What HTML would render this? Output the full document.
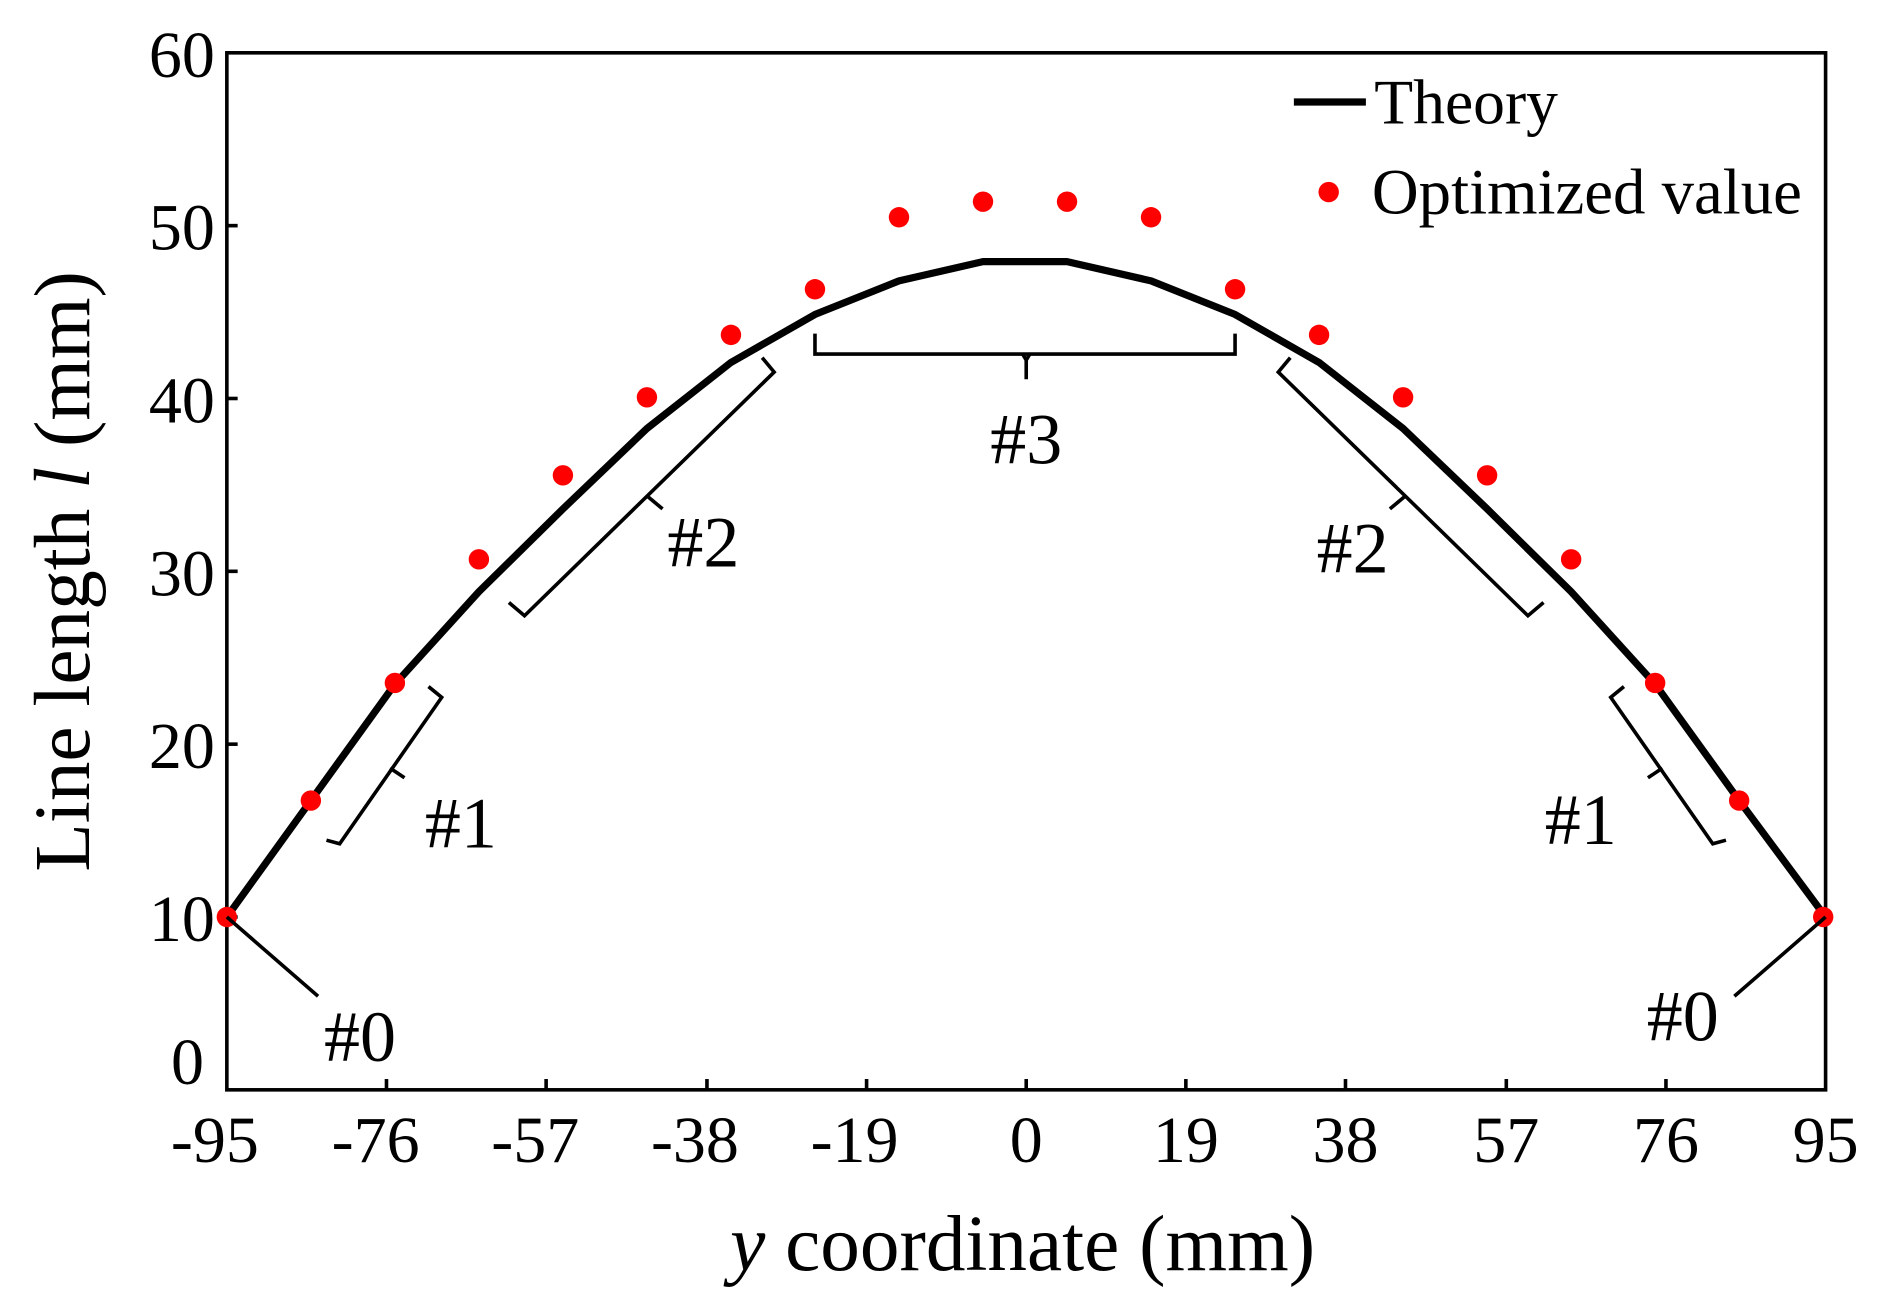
<!DOCTYPE html>
<html><head><style>html,body{margin:0;padding:0;background:#fff}svg{display:block}</style></head>
<body>
<svg width="1882" height="1309" viewBox="0 0 1568 1090.6" preserveAspectRatio="none" xmlns="http://www.w3.org/2000/svg" font-family="Liberation Serif, serif">
<rect width="1568" height="1091" fill="#fff"/>
<rect x="189" y="44" width="1332" height="864" fill="none" stroke="#000" stroke-width="3"/>
<g stroke="#000" stroke-width="3">
<line x1="189" y1="188" x2="198" y2="188"/><line x1="189" y1="332" x2="198" y2="332"/><line x1="189" y1="476" x2="198" y2="476"/><line x1="189" y1="620" x2="198" y2="620"/><line x1="189" y1="764" x2="198" y2="764"/>
<line x1="322" y1="908" x2="322" y2="899"/><line x1="455" y1="908" x2="455" y2="899"/><line x1="589" y1="908" x2="589" y2="899"/><line x1="722" y1="908" x2="722" y2="899"/><line x1="855" y1="908" x2="855" y2="899"/><line x1="988" y1="908" x2="988" y2="899"/><line x1="1121" y1="908" x2="1121" y2="899"/><line x1="1255" y1="908" x2="1255" y2="899"/><line x1="1388" y1="908" x2="1388" y2="899"/>
</g>
<g font-size="55" text-anchor="end">
<text x="179" y="64">60</text><text x="179" y="208">50</text><text x="179" y="352">40</text><text x="179" y="496">30</text><text x="179" y="640">20</text><text x="179" y="784">10</text><text x="170" y="903">0</text>
</g>
<g font-size="55" text-anchor="middle">
<text x="179" y="968">-95</text><text x="313" y="968">-76</text><text x="446" y="968">-57</text><text x="579" y="968">-38</text><text x="712" y="968">-19</text><text x="855" y="968">0</text><text x="988" y="968">19</text><text x="1121" y="968">38</text><text x="1255" y="968">57</text><text x="1388" y="968">76</text><text x="1521" y="968">95</text>
</g>
<text x="852" y="1058" font-size="66" text-anchor="middle"><tspan font-style="italic">y</tspan> coordinate (mm)</text>
<text transform="translate(74,476) rotate(-90)" font-size="66" text-anchor="middle">Line length <tspan font-style="italic">l</tspan> (mm)</text>
<polyline fill="none" stroke="#000" stroke-width="6" stroke-linejoin="round" points="189,764 259,667 329,570 399,493 469,424 539,357 609,302 679,262 749,234 819,218 889,218 959,234 1029,262 1099,302 1169,357 1239,424 1309,493 1379,570 1449,667 1521,764"/>
<g fill="#f00">
<circle cx="189" cy="764" r="8.5"/><circle cx="259" cy="667" r="8.5"/><circle cx="329" cy="569" r="8.5"/><circle cx="399" cy="466" r="8.5"/><circle cx="469" cy="396" r="8.5"/><circle cx="539" cy="331" r="8.5"/><circle cx="609" cy="279" r="8.5"/><circle cx="679" cy="241" r="8.5"/><circle cx="749" cy="181" r="8.5"/><circle cx="819" cy="168" r="8.5"/><circle cx="889" cy="168" r="8.5"/><circle cx="959" cy="181" r="8.5"/><circle cx="1029" cy="241" r="8.5"/><circle cx="1099" cy="279" r="8.5"/><circle cx="1169" cy="331" r="8.5"/><circle cx="1239" cy="396" r="8.5"/><circle cx="1309" cy="466" r="8.5"/><circle cx="1379" cy="569" r="8.5"/><circle cx="1449" cy="667" r="8.5"/><circle cx="1519" cy="764" r="8.5"/>
<circle cx="1107" cy="160" r="8.5"/>
</g>
<line x1="1078" y1="85" x2="1138" y2="85" stroke="#000" stroke-width="6"/>
<text x="1145" y="103" font-size="53">Theory</text>
<text x="1143" y="178" font-size="54">Optimized value</text>
<g fill="none" stroke="#000" stroke-width="3">
<path d="M679,278 L679,295 L1029,295 L1029,278"/><path d="M852,295 L855,300 L855,316 M858,295 L855,300"/>
<path d="M189,764 L265,830"/><path d="M1521,764 L1445,830"/>
<path d="M424,502 L437,513 L645,310 L635,298"/><path d="M540,414 L552,424"/>
<path d="M272,700 L283,703 L368,581 L357,572"/><path d="M325,640 L337,648"/>
<path d="M1286,502 L1273,513 L1065,310 L1075,298"/><path d="M1170,414 L1158,424"/>
<path d="M1438,700 L1427,703 L1342,581 L1353,572"/><path d="M1385,640 L1373,648"/>
</g>
<g font-size="60">
<text x="825" y="386">#3</text><text x="556" y="472">#2</text><text x="354" y="706">#1</text><text x="270" y="884">#0</text>
<text x="1097" y="477">#2</text><text x="1287" y="703">#1</text><text x="1372" y="867">#0</text>
</g>
</svg>
</body></html>
